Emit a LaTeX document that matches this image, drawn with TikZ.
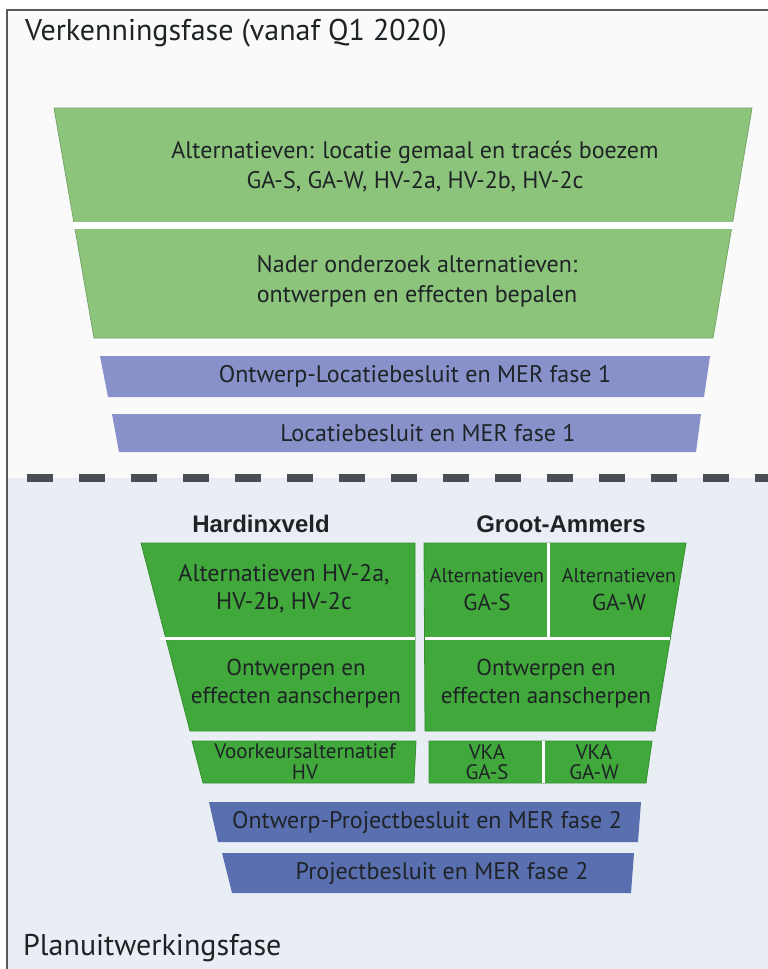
\documentclass[tikz,border=0pt]{standalone}
\usepackage{fontspec}
\setmainfont{PT Sans}
\newfontfamily\kopfont{Liberation Sans}
\usetikzlibrary{positioning}

\definecolor{lichtgroen}{HTML}{8CC47C}
\definecolor{donkergroen}{HTML}{41A83B}
\definecolor{paars}{HTML}{8891CA}
\definecolor{blauw}{HTML}{5A6FB0}
\definecolor{bovenbg}{HTML}{FAFAFA}
\definecolor{onderbg}{HTML}{E9EEF5}
\definecolor{tekst}{HTML}{1E2326}
\definecolor{streep}{HTML}{4A4E54}

\begin{document}
\begin{tikzpicture}[x=1pt,y=-1pt,
fase/.style={font=\fontsize{30}{34}\selectfont,text=tekst,inner sep=0pt},
txt/.style={font=\fontsize{24}{30}\selectfont,align=center,text=tekst,inner sep=0pt},
klein/.style={font=\fontsize{21}{20}\selectfont,align=center,text=tekst,inner sep=0pt},
kop/.style={font=\kopfont\bfseries\fontsize{24}{28}\selectfont,text=tekst,inner sep=0pt},
blok/.style={draw=#1!85!black,line width=0.8pt,fill=#1},
scheiding/.style={draw=white,line width=3pt}]
\useasboundingbox (0,0) rectangle (768,969);

% achtergrond
\fill[white] (0,0) rectangle (768,969);
\fill[bovenbg] (7,10) rectangle (768,478);
\fill[onderbg] (7,478) rectangle (768,969);
\draw[black!65,line width=1.2pt] (7,969) -- (7,10) -- (768,10);
\draw[streep,line width=8pt,dash pattern=on 26pt off 26pt] (27,478) -- (768,478);

\node[fase,anchor=base west] (verk) at (25,40) {Verkenningsfase (vanaf Q1 2020)};
\node[fase,anchor=base west] (plan) at (23,955) {Planuitwerkingsfase};

% trechter verkenning
\path[blok=lichtgroen] (54,108) -- (752,108) -- (713,338) -- (94,338) -- cycle;
\draw[white,line width=7pt] (73,225) -- (733,225);
\node[txt] (alt) at (415,167) {Alternatieven: locatie gemaal en tracés boezem\\GA-S, GA-W, HV-2a, HV-2b, HV-2c};
\node[txt] (nader) at (417,281) {Nader onderzoek alternatieven:\\ontwerpen en effecten bepalen};

% besluiten
\foreach \n/\yt/\yb/\xa/\xb/\xc/\xd/\kl/\xt/\txt in {
  lb1/356/397/100/710/704/108/paars/415/Ontwerp-Locatiebesluit en MER fase 1,
  lb2/414/452/112/701/696/119/paars/428/Locatiebesluit en MER fase 1,
  pb1/802/842/209/641/638/218/blauw/427/Ontwerp-Projectbesluit en MER fase 2,
  pb2/853/893/222/634/631/232/blauw/442/Projectbesluit en MER fase 2}{
\fill[\kl] (\xa,\yt) -- (\xb,\yt) -- (\xc,\yb) -- (\xd,\yb) -- cycle;
\node[txt] (\n) at (\xt,{(\yt+\yb)/2}) {\txt};
}

% planuitwerking
\node[kop,anchor=base] (hv) at (261,532) {Hardinxveld};
\node[kop,anchor=base] (ga) at (561,532) {Groot-Ammers};

\path[blok=donkergroen] (141,543) -- (415,543) -- (415,731) -- (190,731) -- cycle;
\draw[scheiding] (160,638) -- (415,638);
\path[blok=donkergroen] (424,543) -- (686,543) -- (655,731) -- (425,731) -- cycle;
\draw[scheiding] (425,638) -- (670,638);
\draw[scheiding] (548,543) -- (548,638);

\path[blok=donkergroen] (192,741) -- (416,741) -- (414,783) -- (203,783) -- cycle;
\path[blok=donkergroen] (429,741) -- (652,741) -- (646,783) -- (429,783) -- cycle;
\draw[scheiding] (543,741) -- (543,783);

\node[txt,font=\fontsize{24}{28}\selectfont] (hv1) at (284,589) {Alternatieven HV-2a,\\HV-2b, HV-2c};
\node[txt,font=\fontsize{23}{28}\selectfont] (hv2) at (296,684) {Ontwerpen en\\effecten aanscherpen};
\node[txt,font=\fontsize{21}{21}\selectfont] (hv3) at (305,762) {Voorkeursalternatief\\HV};
\node[txt,font=\fontsize{23}{28}\selectfont] (ga1) at (487,590) {{\fontsize{20}{28}\selectfont Alternatieven}\\GA-S};
\node[txt,font=\fontsize{23}{28}\selectfont] (ga2) at (619,590) {{\fontsize{20}{28}\selectfont Alternatieven}\\GA-W};
\node[txt,font=\fontsize{23}{28}\selectfont] (ga3) at (546,684) {Ontwerpen en\\effecten aanscherpen};
\node[klein] (vka1) at (487,762) {VKA\\GA-S};
\node[klein] (vka2) at (594,762) {VKA\\GA-W};
\end{tikzpicture}
\end{document}
